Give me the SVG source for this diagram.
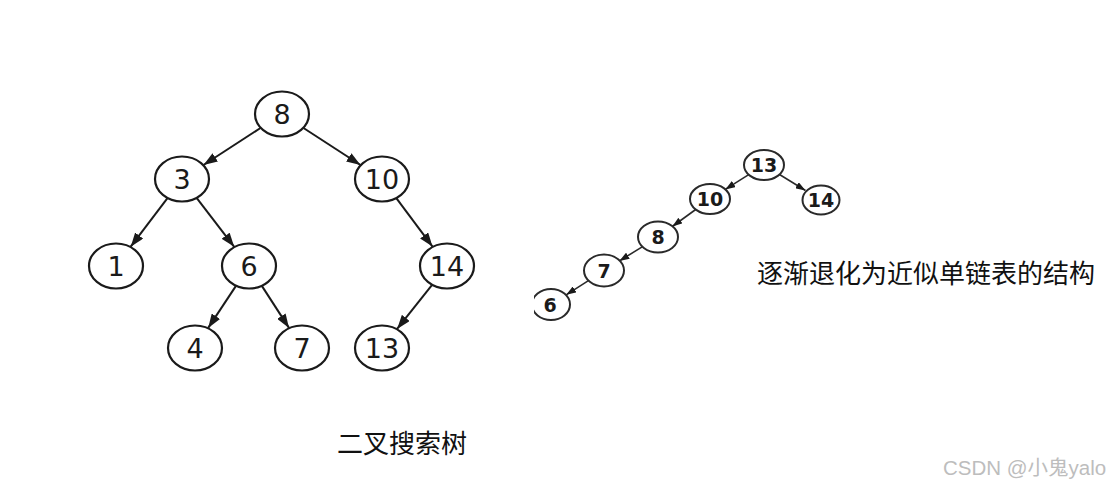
<svg xmlns="http://www.w3.org/2000/svg" width="1111" height="485" viewBox="0 0 1111 485">
<style>
.bg{fill:#ffffff}
.n1 ellipse{fill:#ffffff;stroke:#1a1a1a;stroke-width:2.2}
.n1 text{font-family:"DejaVu Sans",sans-serif;font-size:27px;fill:#1a1a1a;text-anchor:middle}
.n2 ellipse{fill:#ffffff;stroke:#2a2a2a;stroke-width:2}
.n2 text{font-family:"DejaVu Sans",sans-serif;font-weight:bold;font-size:19px;fill:#1a1a1a;text-anchor:middle}
.e1 line{stroke:#1a1a1a;stroke-width:2;marker-end:url(#a1)}
.e2 line{stroke:#2a2a2a;stroke-width:1.6;marker-end:url(#a2)}
.cap{font-family:"Noto Sans CJK SC",sans-serif;fill:#111111}
.wm{font-family:"Liberation Sans","Noto Sans CJK SC",sans-serif;font-size:20.5px;fill:#bdbdbd}
</style>
<defs>
<marker id="a1" viewBox="0 0 14 10" refX="14" refY="5" markerWidth="14" markerHeight="10" markerUnits="userSpaceOnUse" orient="auto"><path d="M0,0 L14,5 L0,10 z" fill="#1a1a1a"/></marker>
<marker id="a2" viewBox="0 0 10 7" refX="10" refY="3.5" markerWidth="10" markerHeight="7" markerUnits="userSpaceOnUse" orient="auto"><path d="M0,0 L10,3.5 L0,7 z" fill="#1a1a1a"/></marker>
<clipPath id="c6"><rect x="534" y="280" width="60" height="50"/></clipPath>
</defs>
<rect class="bg" x="0" y="0" width="1111" height="485"/>
<g id="edges-left" class="e1">
<line x1="260.5" y1="128" x2="203.5" y2="165"/>
<line x1="303.5" y1="128" x2="360.5" y2="165"/>
<line x1="167.3" y1="198.3" x2="130.7" y2="246.7"/>
<line x1="196.8" y1="198.2" x2="234.2" y2="246.8"/>
<line x1="396.5" y1="198.4" x2="432.5" y2="246.6"/>
<line x1="235.8" y1="286.1" x2="208.2" y2="327.9"/>
<line x1="262" y1="286.1" x2="289" y2="327.9"/>
<line x1="431.9" y1="285.1" x2="397.1" y2="328.9"/>
</g>
<g id="L8" class="n1"><ellipse cx="282" cy="114" rx="27" ry="22.5"/><text x="282" y="124">8</text></g>
<g id="L3" class="n1"><ellipse cx="182" cy="179" rx="27" ry="22.5"/><text x="182" y="189">3</text></g>
<g id="L10" class="n1"><ellipse cx="382" cy="179" rx="27" ry="22.5"/><text x="382" y="189">10</text></g>
<g id="L1" class="n1"><ellipse cx="116" cy="266" rx="27" ry="22.5"/><text x="116" y="276">1</text></g>
<g id="L6" class="n1"><ellipse cx="249" cy="266" rx="27" ry="22.5"/><text x="249" y="276">6</text></g>
<g id="L14" class="n1"><ellipse cx="447" cy="266" rx="27" ry="22.5"/><text x="447" y="276">14</text></g>
<g id="L4" class="n1"><ellipse cx="195" cy="348" rx="27" ry="22.5"/><text x="195" y="358">4</text></g>
<g id="L7" class="n1"><ellipse cx="302" cy="348" rx="27" ry="22.5"/><text x="302" y="358">7</text></g>
<g id="L13" class="n1"><ellipse cx="382" cy="348" rx="27" ry="22.5"/><text x="382" y="358">13</text></g>
<g id="edges-right" class="e2">
<line x1="748.7" y1="174.6" x2="725.3" y2="189.4"/>
<line x1="779.5" y1="174.5" x2="805.5" y2="190.5"/>
<line x1="695.7" y1="209.5" x2="672.3" y2="226.5"/>
<line x1="642.6" y1="246.6" x2="619.4" y2="260.9"/>
<line x1="588.8" y1="280.3" x2="566.2" y2="294.8"/>
</g>
<g id="R13" class="n2"><ellipse cx="764" cy="165" rx="20" ry="15"/><text x="764" y="172">13</text></g>
<g id="R10" class="n2"><ellipse cx="710" cy="199" rx="20" ry="15"/><text x="710" y="206">10</text></g>
<g id="R14" class="n2"><ellipse cx="821" cy="200" rx="18.5" ry="14.5"/><text x="821" y="207">14</text></g>
<g id="R8" class="n2"><ellipse cx="658" cy="237" rx="20" ry="15.5"/><text x="658" y="244">8</text></g>
<g id="R7" class="n2"><ellipse cx="604" cy="270.5" rx="20" ry="16"/><text x="604" y="277.5">7</text></g>
<g id="R6" class="n2" clip-path="url(#c6)"><ellipse cx="551" cy="304.5" rx="19" ry="15.5"/><text x="550" y="311.5">6</text></g>
<text class="cap" x="757" y="283" font-size="26">逐渐退化为近似单链表的结构</text>
<text class="cap" x="337" y="453" font-size="26">二叉搜索树</text>
<text class="wm" x="943" y="475">CSDN @小鬼yalo</text>
</svg>
